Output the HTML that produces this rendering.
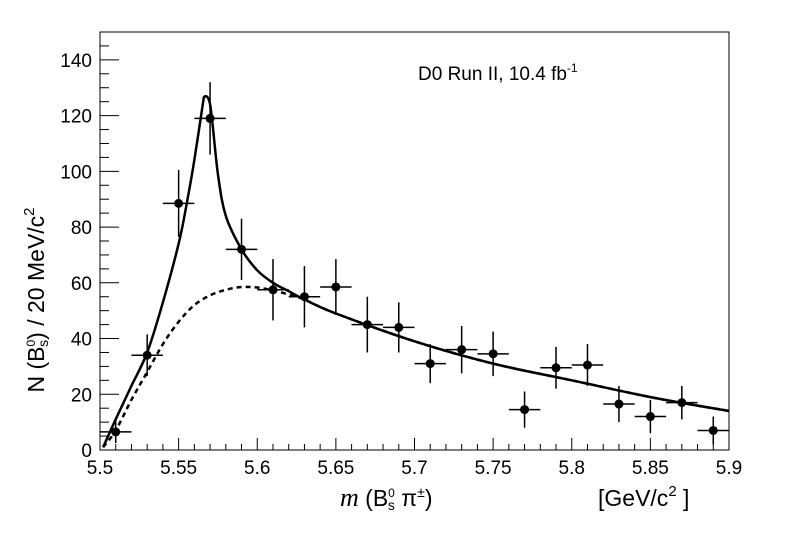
<!DOCTYPE html>
<html><head><meta charset="utf-8"><style>
body{margin:0;background:#fff}
svg text{font-family:"Liberation Sans",sans-serif;fill:#000}
</style></head><body>
<svg id="chart" width="788" height="535" viewBox="0 0 788 535" xmlns="http://www.w3.org/2000/svg">
<rect width="788" height="535" fill="#fff"/>
<g id="g"></g>
</svg>
<script>
const binCenters=[5.51,5.53,5.55,5.57,5.59,5.61,5.63,5.65,5.67,5.69,5.71,5.73,5.75,5.77,5.79,5.81,5.83,5.85,5.87,5.89];
const counts=[6.5,34,88.5,119,72,57.5,55,58.5,45,44,31,36,34.5,14.5,29.5,30.5,16.5,12,17,7];
const errors=[4,7.5,12,13,11,11,11,10,10,9,7,8.5,8,6.5,7.5,7.5,6.5,6,6,5];
const fitX=[5.502,5.51,5.52,5.53,5.54,5.55,5.555,5.56,5.566,5.57,5.575,5.58,5.59,5.60,5.61,5.62,5.63,5.65,5.70,5.75,5.80,5.85,5.90];
const fitY=[1,11,23,35,53,74,88,104,126.5,124,99,84,72,64.5,60,57,54,49,39,31,25,19,14];
const bkgX=[5.502,5.51,5.52,5.53,5.54,5.55,5.56,5.57,5.58,5.59,5.60,5.61,5.62,5.63,5.65,5.70,5.75,5.80,5.85,5.90];
const bkgY=[1,7,18,28,38,46,52,55.5,57.5,58.5,58.3,57.3,55.8,54,49,39,31,25,19,14];
const xTicks=[5.5,5.55,5.6,5.65,5.7,5.75,5.8,5.85,5.9];
const yTicks=[0,20,40,60,80,100,120,140];

const L=100,R=729,T=32,B=450,x0=5.5,x1=5.9,y0=0,y1=150;
const sx=v=>L+(v-x0)/(x1-x0)*(R-L);
const sy=v=>B-(v-y0)/(y1-y0)*(B-T);
const NS="http://www.w3.org/2000/svg";
const g=document.getElementById('g');
function mk(t,a,p){const e=document.createElementNS(NS,t);for(const k in a)e.setAttribute(k,a[k]);(p||g).appendChild(e);return e;}
function smooth(xs,ys,sharpIdx){
 const P=xs.map((v,i)=>[sx(v),sy(ys[i])]);
 let d='M'+P[0][0].toFixed(1)+','+P[0][1].toFixed(1);
 for(let i=0;i<P.length-1;i++){
  const p0=P[Math.max(0,i-1)],p1=P[i],p2=P[i+1],p3=P[Math.min(P.length-1,i+2)];
  let t1=[(p2[0]-p0[0])/6,(p2[1]-p0[1])/6],t2=[(p3[0]-p1[0])/6,(p3[1]-p1[1])/6];
  if(i===sharpIdx)t1=[0,0];
  if(i+1===sharpIdx)t2=[0,0];
  d+='C'+(p1[0]+t1[0]).toFixed(1)+','+(p1[1]+t1[1]).toFixed(1)+' '+(p2[0]-t2[0]).toFixed(1)+','+(p2[1]-t2[1]).toFixed(1)+' '+p2[0].toFixed(1)+','+p2[1].toFixed(1);
 }
 return d;
}

const frame=mk('rect',{x:L,y:T,width:R-L,height:B-T,fill:'none',stroke:'#000','stroke-width':1});



for(let i=0;i<=40;i++){const v=5.5+i*0.01;const X=sx(v);const maj=i%5==0;
 const t=mk('line',{x1:X,x2:X,y1:B,y2:B-(maj?12:6),stroke:'#000','stroke-width':1});
 
 }
xTicks.forEach(v=>{const t=mk('text',{x:sx(v),y:B+24,'font-size':19,'text-anchor':'middle'});t.textContent=String(v);
 
 });
for(let v=0;v<=150;v+=5){const Y=sy(v);const maj=v%20==0;
 const t=mk('line',{x1:L,x2:L+(maj?19:9),y1:Y,y2:Y,stroke:'#000','stroke-width':1});
 
 }
yTicks.forEach(v=>{const t=mk('text',{x:L-8,y:sy(v)+7,'font-size':19,'text-anchor':'end'});t.textContent=String(v);
 
 });

const bk=mk('path',{d:smooth(bkgX,bkgY,-5),fill:'none',stroke:'#000','stroke-width':2.5,'stroke-dasharray':'5,4'});


const ft=mk('path',{d:smooth(fitX,fitY,8),fill:'none',stroke:'#000','stroke-width':2.5,'stroke-linejoin':'round'});



binCenters.forEach((c,i)=>{const X=sx(c),Y=sy(counts[i]);
 const h=mk('line',{x1:sx(c-0.01),x2:sx(c+0.01),y1:Y,y2:Y,stroke:'#000','stroke-width':1.5});
 
 
 const v=mk('line',{x1:X,x2:X,y1:sy(counts[i]+errors[i]),y2:Math.min(B,sy(counts[i]-errors[i])),stroke:'#000','stroke-width':1.5});
 
 
 const p=mk('circle',{cx:X,cy:Y,r:4.5,fill:'#000'});
 
 });

const tt=mk('text',{x:418,y:80,'font-size':19});
tt.innerHTML='D0 Run II, 10.4 fb<tspan dy="-8" font-size="12">-1</tspan>';


const xl=mk('text',{x:340,y:506,'font-size':23});
xl.innerHTML='<tspan font-family="Liberation Serif" font-style="italic" font-size="26">m</tspan> (B<tspan dy="-9" font-size="12">0</tspan><tspan dy="13" dx="-7" font-size="14">s</tspan><tspan dy="-4"> π</tspan><tspan dy="-9" font-size="14">±</tspan><tspan dy="9">)</tspan>';


const xu=mk('text',{x:598,y:506,'font-size':23});
xu.innerHTML='[GeV/c<tspan dy="-10" font-size="15">2</tspan><tspan dy="10"> ]</tspan>';


const yl=mk('text',{x:0,y:0,'font-size':23,transform:'translate(44,300) rotate(-90)','text-anchor':'middle'});
yl.innerHTML='N (B<tspan dy="-9" font-size="12">0</tspan><tspan dy="13" dx="-7" font-size="14">s</tspan><tspan dy="-4">) / 20 MeV/c</tspan><tspan dy="-10" font-size="15">2</tspan>';


</script>
</body></html>
